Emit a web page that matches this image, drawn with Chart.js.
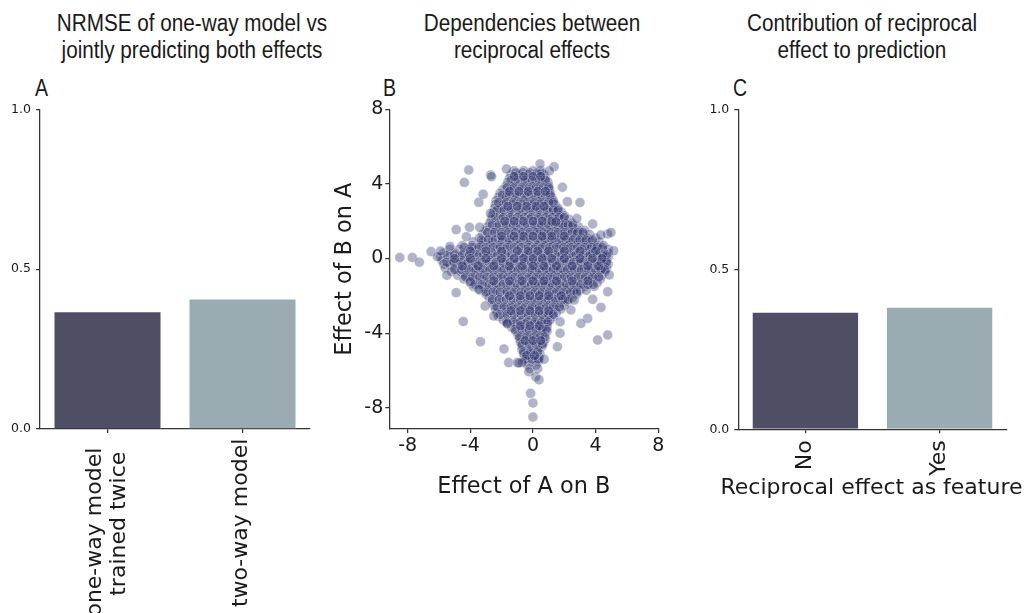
<!DOCTYPE html>
<html>
<head>
<meta charset="utf-8">
<script src="https://cdn.jsdelivr.net/npm/chart.js@4"></script>
<style>
  body { margin: 0; background: #fff; }
  #page { position: relative; width: 1026px; height: 613px; overflow: hidden; }
  canvas { position: absolute; left: 0; top: 0; }
  .title, .letter {
    position: absolute;
    font-family: "Liberation Sans", sans-serif;
    font-size: 23px;
    line-height: 27px;
    color: #1a1a1a;
  }
  .title { top: 10px; width: 360px; text-align: center; transform: scaleX(0.9); transform-origin: center; }
  .letter { top: 75px; transform: scaleX(0.85); transform-origin: left; }
</style>
</head>
<body>
<div id="page">
  <div class="title" style="left:12px">NRMSE of one-way model vs<br>jointly predicting both effects</div>
  <div class="title" style="left:352px">Dependencies between<br>reciprocal effects</div>
  <div class="title" style="left:682px">Contribution of reciprocal<br>effect to prediction</div>
  <div class="letter" style="left:35px">A</div>
  <div class="letter" style="left:383px">B</div>
  <div class="letter" style="left:733px">C</div>
  <canvas id="chartA" width="1026" height="613"></canvas>
  <canvas id="chartB" width="1026" height="613"></canvas>
  <canvas id="chartC" width="1026" height="613"></canvas>
</div>
<script>
// panel A
const nrmseCategories = [["one-way model", "trained twice"], ["two-way model"]];
const nrmseValues = [0.368, 0.408];
// panel C
const reciprocalCategories = ["No", "Yes"];
const reciprocalValues = [0.367, 0.383];
const reciprocalAxisTitle = "Reciprocal effect as feature";
const barTicks = [0, 0.5, 1];

// panel B: effect of A on B (x) vs effect of B on A (y)
const effectTicks = [-8, -4, 0, 4, 8];
// rows of the dense cloud: [y, [x values]]
const coreRows = [
  [4.7, [-1.2, -0.6, 0.0, 0.5]],
  [4.5, [-1.4, -0.9, -0.3, 0.3, 0.7]],
  [4.3, [-1.5, -1.0, -0.4, 0.2, 0.8]],
  [4.1, [-1.6, -1.1, -0.5, 0.1, 0.6, 0.95]],
  [3.9, [-1.7, -1.2, -0.6, 0.0, 0.5, 1.0]],
  [3.7, [-1.9, -1.4, -0.8, -0.2, 0.4, 1.05]],
  [3.5, [-2.1, -1.6, -1.0, -0.4, 0.2, 0.7, 1.1]],
  [3.3, [-2.2, -1.7, -1.1, -0.5, 0.1, 0.6, 1.2]],
  [3.1, [-2.35, -1.8, -1.2, -0.6, 0.0, 0.5, 1.0, 1.3]],
  [2.9, [-2.4, -1.9, -1.3, -0.7, -0.1, 0.4, 0.9, 1.4]],
  [2.7, [-2.45, -2.0, -1.4, -0.8, -0.2, 0.3, 0.8, 1.3, 1.6]],
  [2.5, [-2.5, -1.9, -1.3, -0.7, -0.1, 0.5, 1.0, 1.5, 1.8]],
  [2.3, [-2.6, -2.1, -1.5, -0.9, -0.3, 0.3, 0.8, 1.3, 1.7, 2.0]],
  [2.1, [-2.65, -2.0, -1.4, -0.8, -0.2, 0.4, 1.0, 1.5, 1.9, 2.3]],
  [1.9, [-2.75, -2.2, -1.6, -1.0, -0.4, 0.2, 0.7, 1.2, 1.7, 2.1, 2.5]],
  [1.7, [-2.9, -2.3, -1.7, -1.1, -0.5, 0.1, 0.6, 1.1, 1.6, 2.0, 2.5, 2.9]],
  [1.5, [-3.0, -2.4, -1.8, -1.2, -0.6, 0.0, 0.5, 1.0, 1.5, 2.0, 2.5, 2.9, 3.3]],
  [1.3, [-3.2, -2.6, -2.0, -1.4, -0.8, -0.2, 0.4, 0.9, 1.4, 1.9, 2.4, 2.8, 3.2, 3.6]],
  [1.1, [-3.4, -2.8, -2.2, -1.6, -1.0, -0.4, 0.2, 0.7, 1.2, 1.7, 2.2, 2.7, 3.1, 3.5, 4.0]],
  [0.9, [-3.8, -3.2, -2.6, -2.0, -1.4, -0.8, -0.2, 0.4, 0.9, 1.4, 1.9, 2.4, 2.9, 3.3, 3.7, 4.2]],
  [0.7, [-4.5, -3.9, -3.3, -2.7, -2.1, -1.5, -0.9, -0.3, 0.3, 0.8, 1.3, 1.8, 2.3, 2.8, 3.3, 3.7, 4.1, 4.5]],
  [0.5, [-5.3, -4.7, -4.1, -3.5, -2.9, -2.3, -1.7, -1.1, -0.5, 0.1, 0.6, 1.1, 1.6, 2.1, 2.6, 3.1, 3.6, 4.0, 4.4, 4.8]],
  [0.3, [-5.7, -5.0, -4.4, -3.8, -3.2, -2.6, -2.0, -1.4, -0.8, -0.2, 0.4, 0.9, 1.4, 1.9, 2.4, 2.9, 3.4, 3.8, 4.3, 4.8]],
  [0.1, [-5.9, -5.3, -4.7, -4.1, -3.5, -2.9, -2.3, -1.7, -1.1, -0.5, 0.0, 0.5, 1.0, 1.6, 2.1, 2.6, 3.1, 3.6, 4.1, 4.5, 4.8]],
  [-0.1, [-5.8, -5.1, -4.5, -3.9, -3.3, -2.7, -2.1, -1.5, -0.9, -0.3, 0.2, 0.7, 1.3, 1.8, 2.3, 2.8, 3.3, 3.8, 4.3, 4.7]],
  [-0.3, [-5.7, -5.3, -4.8, -4.2, -3.6, -3.0, -2.4, -1.8, -1.2, -0.6, 0.0, 0.5, 1.0, 1.5, 2.0, 2.5, 3.0, 3.5, 4.0, 4.5, 4.8]],
  [-0.5, [-5.6, -5.0, -4.4, -3.8, -3.2, -2.6, -2.0, -1.4, -0.8, -0.2, 0.3, 0.8, 1.3, 1.8, 2.3, 2.8, 3.3, 3.8, 4.3, 4.7]],
  [-0.7, [-5.2, -4.6, -4.0, -3.4, -2.8, -2.2, -1.6, -1.0, -0.4, 0.1, 0.6, 1.1, 1.6, 2.1, 2.6, 3.1, 3.6, 4.1, 4.6]],
  [-0.9, [-4.8, -4.3, -3.7, -3.1, -2.5, -1.9, -1.3, -0.7, -0.1, 0.4, 0.9, 1.4, 1.9, 2.4, 2.9, 3.4, 3.9, 4.4]],
  [-1.1, [-4.4, -3.8, -3.2, -2.6, -2.0, -1.4, -0.8, -0.2, 0.3, 0.8, 1.3, 1.8, 2.3, 2.8, 3.3, 3.8, 4.3]],
  [-1.3, [-4.0, -3.5, -2.9, -2.3, -1.7, -1.1, -0.5, 0.1, 0.6, 1.1, 1.6, 2.1, 2.6, 3.1, 3.6, 4.1]],
  [-1.5, [-3.8, -3.2, -2.6, -2.0, -1.4, -0.8, -0.2, 0.3, 0.8, 1.3, 1.8, 2.3, 2.8, 3.3, 3.9]],
  [-1.7, [-3.4, -2.9, -2.3, -1.7, -1.1, -0.5, 0.1, 0.6, 1.1, 1.6, 2.1, 2.6, 3.0, 3.4]],
  [-1.9, [-3.0, -2.4, -1.8, -1.2, -0.6, 0.0, 0.5, 1.0, 1.5, 2.0, 2.4, 2.8]],
  [-2.1, [-2.8, -2.2, -1.6, -1.0, -0.4, 0.2, 0.7, 1.2, 1.7, 2.1, 2.5]],
  [-2.3, [-2.6, -2.0, -1.4, -0.8, -0.2, 0.3, 0.8, 1.3, 1.8, 2.2]],
  [-2.5, [-2.5, -1.9, -1.3, -0.7, -0.1, 0.4, 0.9, 1.4, 2.0]],
  [-2.7, [-2.4, -1.8, -1.2, -0.6, 0.0, 0.5, 1.0, 1.4, 1.8]],
  [-2.9, [-2.3, -1.7, -1.1, -0.5, 0.1, 0.6, 1.1, 1.5]],
  [-3.1, [-2.2, -1.6, -1.0, -0.4, 0.2, 0.7, 1.3]],
  [-3.3, [-1.9, -1.3, -0.7, -0.1, 0.4, 0.8, 1.1]],
  [-3.5, [-1.65, -1.1, -0.5, 0.1, 0.5, 0.9]],
  [-3.7, [-1.35, -0.8, -0.2, 0.3, 0.9]],
  [-3.9, [-1.1, -0.5, 0.0, 0.5, 0.9]],
  [-4.1, [-0.95, -0.4, 0.15, 0.6]],
  [-4.3, [-0.85, -0.3, 0.2, 0.8]],
  [-4.5, [-0.8, -0.25, 0.25, 0.7]],
  [-4.7, [-0.7, -0.2, 0.3, 0.6]],
  [-4.9, [-0.7, -0.15, 0.35]],
  [-5.1, [-0.6, -0.1, 0.45]],
  [-5.3, [-0.55, 0.0, 0.4]],
  [-5.5, [-0.5, -0.05, 0.35]],
  [-5.7, [-0.35, 0.2]],
  [-5.9, [-0.2, 0.3]]
];
// inner rows that thicken the cloud
const fillRows = [
  [4.6, [-1.1, -0.65, -0.2, 0.25, 0.55]],
  [4.2, [-1.4, -0.95, -0.5, -0.05, 0.4, 0.8]],
  [3.8, [-1.65, -1.2, -0.7, -0.25, 0.2, 0.65, 1.0]],
  [3.4, [-1.95, -1.5, -1.05, -0.55, -0.1, 0.35, 0.8, 1.1]],
  [3.0, [-2.2, -1.7, -1.25, -0.8, -0.35, 0.1, 0.55, 1.0, 1.3]],
  [2.6, [-2.3, -1.85, -1.4, -0.9, -0.45, 0.0, 0.45, 0.9, 1.3, 1.6]],
  [2.2, [-2.4, -1.9, -1.45, -1.0, -0.55, -0.1, 0.35, 0.8, 1.25, 1.65, 2.0]],
  [1.8, [-2.6, -2.15, -1.7, -1.25, -0.8, -0.35, 0.1, 0.55, 1.0, 1.45, 1.9, 2.25, 2.55]],
  [1.4, [-2.9, -2.45, -2.0, -1.55, -1.1, -0.65, -0.2, 0.25, 0.7, 1.15, 1.6, 2.05, 2.5, 2.85, 3.2]],
  [1.0, [-3.3, -2.85, -2.4, -1.95, -1.5, -1.05, -0.6, -0.15, 0.3, 0.75, 1.2, 1.65, 2.1, 2.55, 3.0, 3.4, 3.8]],
  [0.6, [-4.4, -3.9, -3.45, -3.0, -2.55, -2.1, -1.65, -1.2, -0.75, -0.3, 0.15, 0.6, 1.05, 1.5, 1.95, 2.4, 2.85, 3.3, 3.75, 4.1, 4.45]],
  [0.2, [-5.45, -5.0, -4.5, -4.05, -3.6, -3.15, -2.7, -2.25, -1.8, -1.35, -0.9, -0.45, 0.05, 0.5, 0.95, 1.4, 1.85, 2.3, 2.75, 3.2, 3.65, 4.1, 4.45, 4.7]],
  [-0.2, [-5.5, -5.05, -4.6, -4.15, -3.7, -3.25, -2.8, -2.35, -1.9, -1.45, -1.0, -0.55, -0.1, 0.35, 0.8, 1.25, 1.7, 2.15, 2.6, 3.05, 3.5, 3.95, 4.35, 4.7]],
  [-0.6, [-5.0, -4.55, -4.1, -3.65, -3.2, -2.75, -2.3, -1.85, -1.4, -0.95, -0.5, -0.05, 0.4, 0.85, 1.3, 1.75, 2.2, 2.65, 3.1, 3.55, 4.0, 4.35, 4.6]],
  [-1.0, [-4.3, -3.85, -3.4, -2.95, -2.5, -2.05, -1.6, -1.15, -0.7, -0.25, 0.2, 0.65, 1.1, 1.55, 2.0, 2.45, 2.9, 3.35, 3.8, 4.2]],
  [-1.4, [-3.7, -3.25, -2.8, -2.35, -1.9, -1.45, -1.0, -0.55, -0.1, 0.35, 0.8, 1.25, 1.7, 2.15, 2.6, 3.05, 3.5, 3.85]],
  [-1.8, [-3.0, -2.55, -2.1, -1.65, -1.2, -0.75, -0.3, 0.15, 0.6, 1.05, 1.5, 1.95, 2.4, 2.8]],
  [-2.2, [-2.6, -2.15, -1.7, -1.25, -0.8, -0.35, 0.1, 0.55, 1.0, 1.45, 1.9, 2.25]],
  [-2.6, [-2.3, -1.85, -1.4, -0.95, -0.5, -0.05, 0.4, 0.85, 1.3, 1.7]],
  [-3.0, [-2.1, -1.65, -1.2, -0.75, -0.3, 0.15, 0.6, 1.0, 1.3]],
  [-3.4, [-1.7, -1.25, -0.8, -0.35, 0.1, 0.55, 0.95]],
  [-3.8, [-1.15, -0.7, -0.25, 0.2, 0.6, 0.85]],
  [-4.2, [-0.85, -0.4, 0.05, 0.45, 0.75]],
  [-4.6, [-0.7, -0.25, 0.2, 0.6]],
  [-5.0, [-0.6, -0.15, 0.3]],
  [-5.4, [-0.5, -0.05, 0.35]]
];
// extra overlap along the central cross
const crossRows = [
  [4.4, [-1.2, -0.6, 0.0, 0.5]],
  [3.6, [-1.5, -0.9, -0.3, 0.3, 0.8]],
  [2.8, [-1.6, -1.0, -0.4, 0.2, 0.7]],
  [2.0, [-1.8, -1.2, -0.6, 0.0, 0.6, 1.2]],
  [1.2, [-2.0, -1.2, -0.6, 0.0, 0.6, 1.2, 2.0]],
  [0.4, [-4.0, -3.0, -2.0, -1.0, -0.3, 0.3, 1.0, 2.0, 3.0, 4.0]],
  [0.0, [-5.0, -4.0, -3.0, -2.0, -1.2, -0.6, 0.0, 0.6, 1.2, 2.0, 3.0, 3.8, 4.4]],
  [-0.4, [-4.5, -3.5, -2.5, -1.5, -0.7, 0.0, 0.7, 1.5, 2.5, 3.5, 4.2]],
  [-1.2, [-2.5, -1.5, -0.7, 0.0, 0.7, 1.5, 2.5, 3.5]],
  [-2.0, [-1.5, -0.8, -0.2, 0.4, 1.0, 1.8]],
  [-2.8, [-1.4, -0.8, -0.2, 0.4, 1.0]],
  [-3.6, [-0.8, -0.2, 0.4]],
  [-4.4, [-0.5, 0.0, 0.5]],
  [-5.2, [-0.4, 0.1]]
];
// scattered points around the cloud: [x, y]
const outlierPoints = [
  [-8.5, 0.05], [-7.7, 0.05], [-7.25, -0.2], [-6.5, 0.37], [-6.1, 0.1], [-5.9, 0.4],
  [-5.3, 0.65], [-5.5, -0.9], [-4.9, 1.55], [-4.05, 1.67], [-3.4, 1.67], [-4.25, 1.17],
  [-4.9, -1.83], [-4.0, -1.24], [-3.45, -1.65], [-4.45, -3.38], [-3.35, -4.46], [-3.05, -2.55],
  [-2.5, -3.08], [-1.85, -4.85], [-1.64, -3.48], [-4.1, 4.75], [-4.38, 4.08], [-2.7, 4.48],
  [-1.69, 4.8], [-3.18, 3.44], [-3.46, 3.01], [-2.71, 2.42], [-2.65, 4.39], [-1.55, -5.58],
  [-1.0, -5.58], [-0.7, -5.58], [-0.9, -5.6], [-0.26, -6.07], [0.17, -6.34], [0.38, -6.5],
  [-0.15, -7.23], [0.0, -7.75], [0.0, -8.5], [0.71, -5.4], [0.45, 5.07], [1.35, 4.92],
  [1.05, 4.7], [1.88, 3.82], [2.2, 3.05], [3.0, 3.0], [2.8, 2.15], [1.46, 1.97],
  [3.81, 1.85], [4.77, 1.31], [4.98, 1.4], [4.34, 1.26], [5.15, 0.42], [4.87, -0.88],
  [4.77, -1.78], [4.34, -2.62], [3.81, -2.19], [3.49, -3.21], [3.06, -3.48], [4.77, -4.1],
  [4.13, -4.37], [2.42, -2.76], [2.63, -2.23], [1.73, -3.39], [1.73, -4.01], [1.56, -4.73]
];

const textColor = "#1a1a1a";
const axisColor = "#333333";
const barColors = ["#4e4f65", "#9aabb1"];
const tickFont = "DejaVu Sans";

const rowsToPoints = (rows) =>
  rows.flatMap(([y, xs]) => xs.map((x) => ({ x: x, y: y })));

const scatterData = rowsToPoints(coreRows)
  .concat(rowsToPoints(fillRows))
  .concat(rowsToPoints(crossRows))
  .concat(outlierPoints.map(([x, y]) => ({ x: x, y: y })));

const gridStyle = {
  drawOnChartArea: false,
  drawTicks: true,
  tickLength: 4,
  color: axisColor,
  lineWidth: 1.25,
};
const borderStyle = { display: true, color: axisColor, width: 1.25 };

const fixTicks = (values) => (scale) => {
  scale.ticks = values.map((v) => ({ value: v }));
};

// rotated two-line category labels of panel A, centred on the ticks
const labelNudges = [[[-12, 18.7], [11.6, 22.7]], [[-1.7, 9.7]]];
const rotatedLabels = {
  id: "rotatedLabels",
  afterDraw(chart) {
    const ctx = chart.ctx;
    const xScale = chart.scales.x;
    const bottom = chart.chartArea.bottom;
    ctx.save();
    ctx.font = `22px "${tickFont}"`;
    ctx.fillStyle = textColor;
    ctx.textAlign = "right";
    ctx.textBaseline = "middle";
    nrmseCategories.forEach((lines, i) => {
      const px = xScale.getPixelForValue(i);
      lines.forEach((line, j) => {
        const [dx, dy] = labelNudges[i][j];
        ctx.save();
        ctx.translate(px + dx, bottom + dy);
        ctx.rotate(-Math.PI / 2);
        ctx.fillText(line, 0, 0);
        ctx.restore();
      });
    });
    ctx.restore();
  },
};

// axis title of panel C is wider than the axis, so it is drawn without a max width
const wideAxisTitle = {
  id: "wideAxisTitle",
  afterDraw(chart) {
    const ctx = chart.ctx;
    const area = chart.chartArea;
    ctx.save();
    ctx.font = `22px "${tickFont}"`;
    ctx.fillStyle = textColor;
    ctx.textAlign = "center";
    ctx.textBaseline = "middle";
    ctx.fillText(reciprocalAxisTitle, (area.left + area.right) / 2 - 1, area.bottom + 58.7);
    ctx.restore();
  },
};

const barYAxis = {
  min: 0,
  max: 1,
  afterBuildTicks: fixTicks(barTicks),
  ticks: {
    callback: (v) => Number(v).toFixed(1),
    font: { family: tickFont, size: 12.5 },
    color: textColor,
    padding: 5,
  },
  grid: gridStyle,
  border: borderStyle,
  afterFit: (s) => {
    s.width = 40;
  },
};

new Chart(document.getElementById("chartA"), {
  type: "bar",
  data: {
    labels: nrmseCategories.map((l) => l.join(" ")),
    datasets: [
      {
        data: nrmseValues,
        backgroundColor: barColors,
        borderColor: "rgba(255,255,255,0.8)",
        borderWidth: 1,
        barPercentage: 0.8,
        categoryPercentage: 1,
      },
    ],
  },
  options: {
    responsive: false,
    animation: false,
    layout: { padding: { left: 0, right: 716, top: 109.3, bottom: 124 } },
    plugins: { legend: { display: false }, tooltip: { enabled: false } },
    scales: {
      x: {
        offset: true,
        grid: { ...gridStyle, offset: false },
        border: borderStyle,
        ticks: { display: false },
        afterFit: (s) => {
          s.height = 60;
        },
      },
      y: barYAxis,
    },
  },
  plugins: [rotatedLabels],
});

new Chart(document.getElementById("chartB"), {
  type: "scatter",
  data: {
    datasets: [
      {
        data: scatterData,
        pointRadius: 5,
        pointHoverRadius: 5,
        backgroundColor: "rgba(40,45,105,0.36)",
        borderColor: "rgba(255,255,255,0.45)",
        borderWidth: 0.8,
      },
    ],
  },
  options: {
    responsive: false,
    animation: false,
    layout: { padding: { left: 327.6, right: 367.7, top: 109.3, bottom: 108.6 } },
    plugins: { legend: { display: false }, tooltip: { enabled: false } },
    scales: {
      x: {
        type: "linear",
        min: -9.17,
        max: 8,
        afterBuildTicks: fixTicks(effectTicks),
        ticks: { font: { family: tickFont, size: 19 }, color: textColor, padding: 2 },
        grid: gridStyle,
        border: borderStyle,
        title: {
          display: true,
          text: "Effect of A on B",
          font: { family: tickFont, size: 22.4 },
          color: textColor,
          padding: { top: 4, bottom: 4 },
        },
        afterFit: (s) => {
          s.height = 75.4;
        },
      },
      y: {
        type: "linear",
        min: -9.14,
        max: 8,
        afterBuildTicks: fixTicks(effectTicks),
        ticks: { font: { family: tickFont, size: 19 }, color: textColor, padding: 2 },
        grid: gridStyle,
        border: borderStyle,
        title: {
          display: true,
          text: "Effect of B on A",
          font: { family: tickFont, size: 22.4 },
          color: textColor,
          padding: { top: 4, bottom: 4 },
        },
        afterFit: (s) => {
          s.width = 61.7;
        },
      },
    },
  },
});

new Chart(document.getElementById("chartC"), {
  type: "bar",
  data: {
    labels: reciprocalCategories,
    datasets: [
      {
        data: reciprocalValues,
        backgroundColor: barColors,
        borderColor: "rgba(255,255,255,0.8)",
        borderWidth: 1,
        barPercentage: 0.8,
        categoryPercentage: 1,
      },
    ],
  },
  options: {
    responsive: false,
    animation: false,
    layout: { padding: { left: 698.3, right: 19.3, top: 109.3, bottom: 106 } },
    plugins: { legend: { display: false }, tooltip: { enabled: false } },
    scales: {
      x: {
        offset: true,
        grid: { ...gridStyle, offset: false },
        border: borderStyle,
        ticks: {
          font: { family: tickFont, size: 22 },
          color: textColor,
          padding: 7,
          minRotation: 90,
          maxRotation: 90,
        },
        afterFit: (s) => {
          s.height = 77.7;
        },
      },
      y: barYAxis,
    },
  },
  plugins: [wideAxisTitle],
});
</script>
</body>
</html>
